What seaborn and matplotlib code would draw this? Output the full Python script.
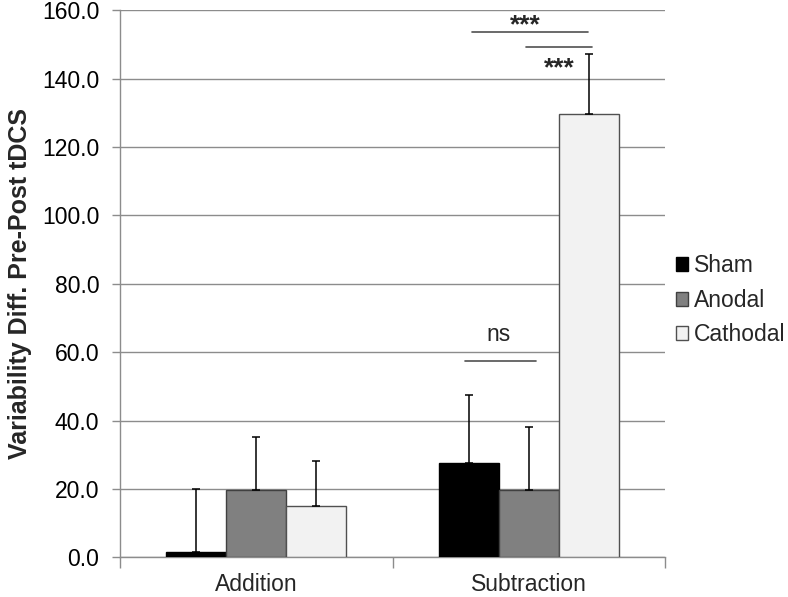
import matplotlib
matplotlib.use("Agg")
import matplotlib.pyplot as plt
import seaborn as sns
import pandas as pd
import numpy as np
from matplotlib.patches import Patch

# ---- data ----
tasks = ["Addition", "Subtraction"]
conditions = ["Sham", "Anodal", "Cathodal"]
sham_means = [1.6, 27.7]
anodal_means = [19.6, 19.8]
cathodal_means = [14.9, 129.8]
sham_err = [18.5, 19.7]
anodal_err = [15.7, 18.4]
cathodal_err = [13.4, 17.4]
y_ticks = [0, 20, 40, 60, 80, 100, 120, 140, 160]
y_label = "Variability Diff. Pre-Post tDCS"

colors = {"Sham": "#000000", "Anodal": "#808080", "Cathodal": "#f2f2f2"}
edges = {"Sham": "#000000", "Anodal": "#404040", "Cathodal": "#505050"}

means = {"Sham": sham_means, "Anodal": anodal_means, "Cathodal": cathodal_means}
errs = {"Sham": sham_err, "Anodal": anodal_err, "Cathodal": cathodal_err}
rows = []
for c in conditions:
    for t, m in zip(tasks, means[c]):
        rows.append({"task": t, "cond": c, "value": m})
df = pd.DataFrame(rows)

sns.set_style("white")
plt.rcParams["font.family"] = ["Liberation Sans", "DejaVu Sans"]

fig = plt.figure(figsize=(7.88, 5.97), dpi=100)
ax = fig.add_axes([0.1523, 0.0665, 0.8439 - 0.1523, 0.9827 - 0.0665])

sns.barplot(data=df, x="task", y="value", hue="cond", order=tasks,
            hue_order=conditions, palette=colors, width=0.66,
            errorbar=None, ax=ax, zorder=3, legend=False)

for cont, c in zip(ax.containers, conditions):
    xs, hs = [], []
    for bar in cont:
        bar.set_edgecolor(edges[c])
        bar.set_linewidth(1.0)
        xs.append(bar.get_x() + bar.get_width() / 2)
        hs.append(bar.get_height())
    ax.errorbar(xs, hs, yerr=[np.zeros(len(hs)), errs[c]], fmt="none",
                ecolor="#000000", elinewidth=1.1, capsize=3, capthick=1.1,
                zorder=4)

ax.set_xlim(-0.5, 1.5)
ax.set_ylim(0, 160)
ax.set_yticks(y_ticks)
ax.set_yticklabels([f"{v:.1f}" for v in y_ticks])
ax.yaxis.grid(True, color="#8c8c8c", linewidth=1.0, zorder=0)
ax.xaxis.grid(False)
ax.set_axisbelow(True)
for s in ["top", "right"]:
    ax.spines[s].set_visible(False)
for s in ["left", "bottom"]:
    ax.spines[s].set_color("#8c8c8c")
    ax.spines[s].set_linewidth(1.0)

ax.tick_params(axis="y", which="major", left=True, length=6, width=1,
               color="#8c8c8c", labelsize=16.5, pad=9, labelcolor="#000000")
ax.tick_params(axis="x", which="major", bottom=False, labelsize=16.5, pad=8)
ax.set_xticks([-0.5, 0.5, 1.5], minor=True)
ax.tick_params(axis="x", which="minor", bottom=True, length=8, width=1,
               color="#8c8c8c")
ax.set_xlabel("")
ax.set_ylabel(y_label, fontsize=18, fontweight="bold")
ax.yaxis.set_label_coords(-0.162, 0.5)

# significance annotations
line_c = "#505050"
ax.plot([0.791, 1.219], [153.6, 153.6], color=line_c, lw=1.2, zorder=5)
ax.text(0.988, 153.5, "***", ha="center", va="baseline", fontsize=19, fontweight="bold")
ax.plot([0.990, 1.231], [149.2, 149.2], color=line_c, lw=1.2, zorder=5)
ax.text(1.113, 140.9, "***", ha="center", va="baseline", fontsize=19, fontweight="bold")
ax.plot([0.766, 1.027], [57.4, 57.4], color=line_c, lw=1.2, zorder=5)
ax.text(0.891, 63.3, "ns", ha="center", va="baseline", fontsize=16.5)

# legend
handles = [Patch(facecolor=colors[c], edgecolor=edges[c], label=c) for c in conditions]
fig.legend(handles=handles, loc="center left", bbox_to_anchor=(0.843, 0.497),
           frameon=False, fontsize=16.5, handlelength=0.55, handleheight=0.55,
           handletextpad=0.25, labelspacing=0.5, borderpad=0)

fig.savefig("out.png", dpi=100)
